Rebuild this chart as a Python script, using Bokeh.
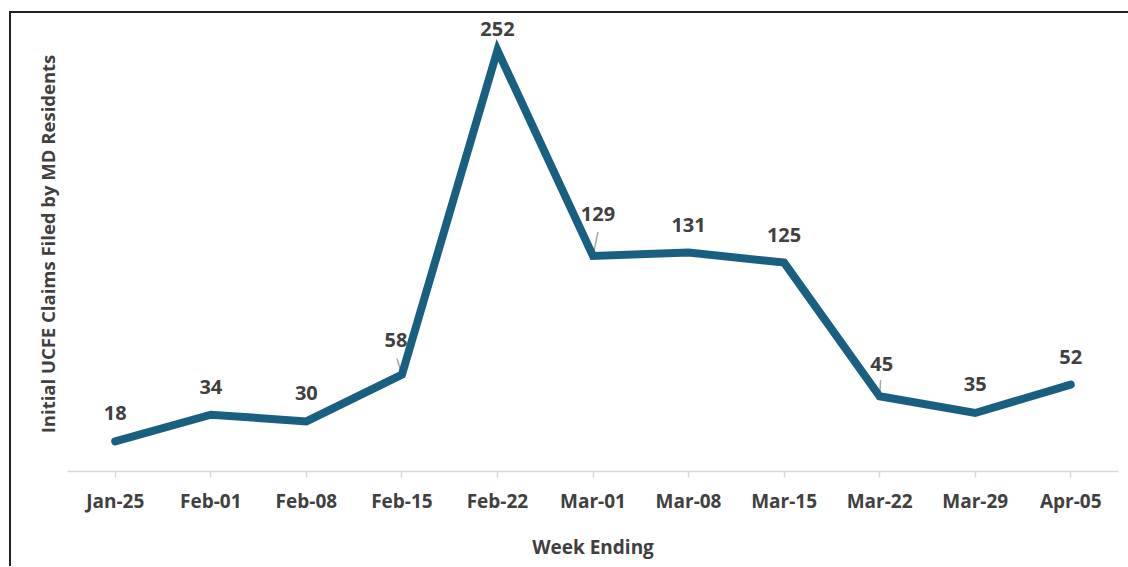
from bokeh.plotting import figure
from bokeh.layouts import column
from bokeh.models import ColumnDataSource, FactorRange, Range1d, FixedTicker
from bokeh.transform import dodge
from bokeh.core.properties import value
from bokeh.embed import file_html
from bokeh.resources import INLINE

# ---- data ----
weeks = ["Jan-25", "Feb-01", "Feb-08", "Feb-15", "Feb-22", "Mar-01",
         "Mar-08", "Mar-15", "Mar-22", "Mar-29", "Apr-05"]
claims = [18, 34, 30, 58, 252, 129, 131, 125, 45, 35, 52]
y_title = "Initial UCFE Claims Filed by MD Residents"
x_title = "Week Ending"

# ---- style ----
LINE = "#185F80"
TXT = "#404040"
AX = "#D9D9D9"
FONT = "Open Sans"
W, H = 1119, 553
MB_L, MB_R, MB_T, MB_B = 56, 12, 3, 95
Y_END = 272.3

# label nudges in px (dx, up)
nudge = {"Feb-15": (-6, 35), "Feb-22": (0, 21), "Mar-01": (5, 42),
         "Mar-22": (2, 32), "Mar-29": (0, 29)}
# leader lines in px (dx, up) from point
leaders = {"Feb-15": (-5, 16), "Mar-01": (5, 24), "Mar-22": (1, 16)}

p = figure(width=W, height=H, x_range=FactorRange(*weeks, range_padding=0),
           y_range=Range1d(0, Y_END), output_backend="svg", toolbar_location=None,
           min_border_left=MB_L, min_border_right=MB_R, min_border_top=MB_T,
           min_border_bottom=MB_B)
p.outline_line_color = None
p.grid.grid_line_color = None
p.background_fill_color = "white"
p.border_fill_color = "white"

px_x = (W - MB_L - MB_R) / len(weeks)
px_y = (H - MB_T - MB_B) / Y_END

# leader lines
for w, c in zip(weeks, claims):
    if w in leaders:
        dx, up = leaders[w]
        s = ColumnDataSource(dict(x0=[w], x1=[w], y0=[c], y1=[c + up / px_y]))
        p.segment(x0="x0", y0="y0", x1=dodge("x1", dx / px_x, range=p.x_range),
                  y1="y1", source=s, line_color="#A6A6A6", line_width=1.5)

src = ColumnDataSource(dict(
    week=weeks, claims=claims, label=[str(c) for c in claims],
    dx=[nudge.get(w, (0, 28))[0] for w in weeks],
    dy=[-nudge.get(w, (0, 28))[1] for w in weeks],
))
p.line(x="week", y="claims", source=src, line_color=LINE, line_width=8,
       line_cap="round", line_join="miter")
p.text(x="week", y="claims", text="label", x_offset="dx", y_offset="dy", source=src,
       text_font=value(FONT), text_font_style="bold",
       text_font_size="20px", text_color=TXT, text_align="center",
       text_baseline="middle")

# x axis
xa = p.xaxis[0]
xa.axis_line_color = AX
xa.axis_line_width = 1.5
xa.major_tick_line_color = AX
xa.major_tick_line_width = 1.5
xa.major_tick_in = 0
xa.major_tick_out = 6
xa.major_label_text_font = FONT
xa.major_label_text_font_style = "bold"
xa.major_label_text_font_size = "19px"
xa.major_label_text_color = TXT
xa.major_label_standoff = 10
xa.axis_label = x_title
xa.axis_label_text_font = FONT
xa.axis_label_text_font_style = "bold"
xa.axis_label_text_font_size = "19px"
xa.axis_label_text_color = TXT
xa.axis_label_standoff = 17

# y axis (title only)
ya = p.yaxis[0]
ya.ticker = FixedTicker(ticks=[])
ya.axis_line_color = None
ya.major_tick_line_color = None
ya.minor_tick_line_color = None
ya.major_tick_out = 0
ya.major_label_text_font_size = "0px"
ya.axis_label = y_title
ya.axis_label_text_font = FONT
ya.axis_label_text_font_style = "bold"
ya.axis_label_text_font_size = "18.5px"
ya.axis_label_text_color = TXT
ya.axis_label_standoff = 8

page = column(p, styles={"border-top": "2px solid #222222",
                         "border-left": "2px solid #222222",
                         "margin-left": "9px", "margin-top": "11px"})

open("out.html", "w").write(file_html(page, INLINE))
